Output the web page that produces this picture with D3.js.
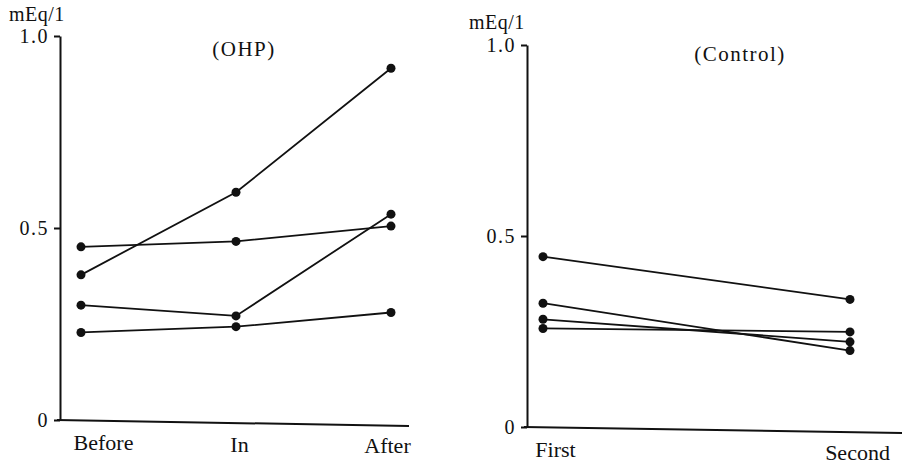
<!DOCTYPE html>
<html>
<head>
<meta charset="utf-8">
<script src="https://cdn.jsdelivr.net/npm/d3@7"></script>
<style>
  body { margin: 0; background: #fff; }
  text { font-family: "Liberation Serif", "Times New Roman", serif; fill: #111; }
</style>
</head>
<body>
<div id="canvas"></div>
<script>
// data (mEq/1)
var ohpCategories = ['Before', 'In', 'After'];
var ohpSeries = [
    [0.378, 0.593, 0.916],
    [0.451, 0.465, 0.505],
    [0.299, 0.271, 0.536],
    [0.228, 0.243, 0.280]
];
var controlCategories = ['First', 'Second'];
var controlSeries = [
    [0.446, 0.334],
    [0.324, 0.200],
    [0.282, 0.223],
    [0.258, 0.249]
];
var yTickValues = [0, 0.5, 1.0];
var yTickLabels = ['0', '0.5', '1.0'];
var unitLabel = 'mEq/1';

var svg = d3.select('#canvas').append('svg')
    .attr('width', 902)
    .attr('height', 466);

function drawPanel(p) {
    var y = d3.scaleLinear().domain([0, 1]).range([p.y0, p.y1]);
    var x = d3.scalePoint().domain(p.categories).range([p.xFirst, p.xLast]);
    var g = svg.append('g');

    // y axis
    var yAxis = d3.axisLeft(y)
        .tickValues(yTickValues)
        .tickFormat(function(d, i) { return yTickLabels[i]; })
        .tickSize(6)
        .tickSizeOuter(0)
        .tickPadding(5);
    var ya = g.append('g')
        .attr('transform', 'translate(' + p.axisX + ',0)')
        .call(yAxis);
    ya.select('.domain').attr('stroke', '#111').attr('stroke-width', 2);
    ya.selectAll('.tick line').attr('stroke', '#111').attr('stroke-width', 2);
    ya.selectAll('.tick text')
        .attr('font-size', 20)
        .attr('letter-spacing', '1.5px')
        .attr('font-family', 'Liberation Serif')
        .attr('fill', '#111');

    // baseline, slightly tilted like the scan
    g.append('line')
        .attr('x1', p.axisX - 3)
        .attr('y1', y(0))
        .attr('x2', p.baseEnd)
        .attr('y2', y(0) + 6)
        .attr('stroke', '#111')
        .attr('stroke-width', 2);

    // category labels
    var xAxis = d3.axisBottom(x).tickSize(0);
    var xa = g.append('g')
        .attr('transform', 'translate(0,' + y(0) + ')')
        .call(xAxis);
    xa.select('.domain').remove();
    xa.selectAll('.tick text')
        .attr('font-size', 22)
        .attr('font-family', 'Liberation Serif')
        .attr('fill', '#111')
        .attr('dx', function(d, i) { return p.labelShift[i]; })
        .attr('dy', 0)
        .attr('y', function(d, i) { return 30 + i * 3 / (p.categories.length - 1); });

    // unit and title
    g.append('text')
        .attr('x', p.unitX)
        .attr('y', p.unitY)
        .attr('font-size', 20)
        .attr('letter-spacing', '0.5px')
        .text(unitLabel);
    g.append('text')
        .attr('x', p.titleX)
        .attr('y', p.titleY)
        .attr('text-anchor', 'middle')
        .attr('font-size', 21)
        .attr('letter-spacing', '1.5px')
        .text(p.title);

    var line = d3.line()
        .x(function(d, i) { return x(p.categories[i]); })
        .y(function(d) { return y(d); });

    var series = g.selectAll('.series')
        .data(p.series)
        .enter()
        .append('g')
        .attr('class', 'series');

    series.append('path')
        .attr('d', line)
        .attr('fill', 'none')
        .attr('stroke', '#111')
        .attr('stroke-width', 1.8);

    series.selectAll('circle')
        .data(function(d) { return d; })
        .enter()
        .append('circle')
        .attr('cx', function(d, i) { return x(p.categories[i]); })
        .attr('cy', function(d) { return y(d); })
        .attr('r', 4.5)
        .attr('fill', '#111');
}

drawPanel({
    categories: ohpCategories, series: ohpSeries, title: '(OHP)',
    y0: 420, y1: 36, axisX: 60, xFirst: 81, xLast: 391, baseEnd: 409,
    labelShift: [22, 3, -4],
    unitX: 9, unitY: 21, titleX: 244, titleY: 56
});

drawPanel({
    categories: controlCategories, series: controlSeries, title: '(Control)',
    y0: 427, y1: 45, axisX: 527, xFirst: 543, xLast: 850, baseEnd: 902,
    labelShift: [12, 7],
    unitX: 469, unitY: 29, titleX: 740, titleY: 61
});
</script>
</body>
</html>
